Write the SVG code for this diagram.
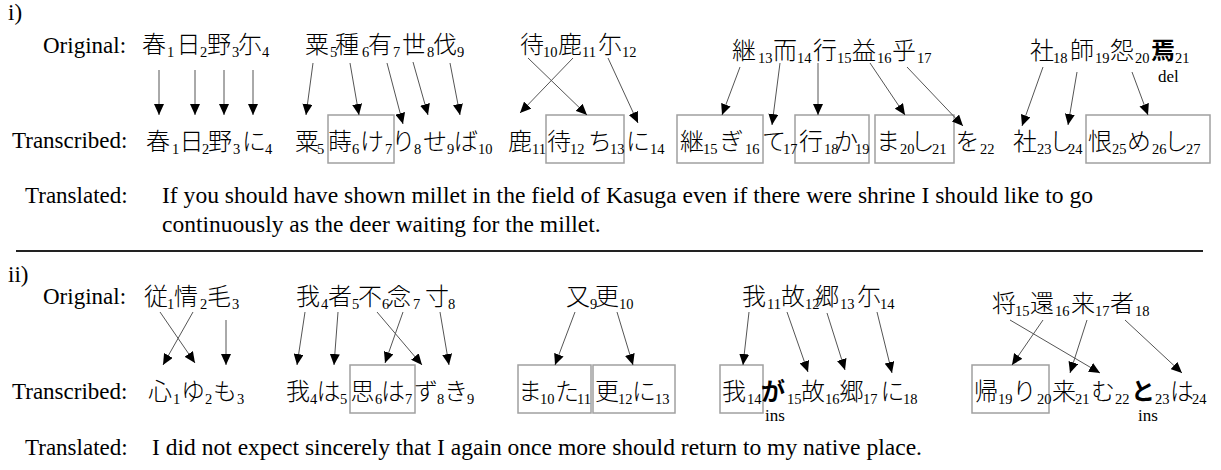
<svg xmlns="http://www.w3.org/2000/svg" width="1221" height="470" viewBox="0 0 1221 470">
<style>
.l{font-family:"Liberation Serif",serif;font-size:23px;fill:#000}
.t{font-family:"Liberation Serif",serif;font-size:23.5px;fill:#000}
.j{font-family:"Noto Sans CJK JP",sans-serif;font-size:24px;font-weight:300;text-anchor:middle;fill:#000}
.b{font-weight:700}
.s{font-family:"Liberation Serif",serif;font-size:14.5px;fill:#000}
.n{font-family:"Liberation Serif",serif;font-size:17px;fill:#000}
.box{fill:none;stroke:#a0a0a0;stroke-width:1.5}
.c line{stroke:#555;stroke-width:1;marker-end:url(#ah)}
</style>
<defs>
<marker id="ah" viewBox="0 0 11 10" refX="11" refY="5" markerWidth="11" markerHeight="10" markerUnits="userSpaceOnUse" orient="auto">
<path d="M0,0 L11,5 L0,10 z" fill="#000"/>
</marker>
</defs>
<rect width="1221" height="470" fill="#fff"/>

<g id="labels">
<text class="l" x="8" y="20" font-size="28">i)</text>
<text class="l" x="43" y="53">Original:</text>
<text class="l" x="12" y="148">Transcribed:</text>
<text class="l" x="25" y="203">Translated:</text>
<text class="t" x="162" y="203" textLength="931" lengthAdjust="spacingAndGlyphs">If you should have shown millet in the field of Kasuga even if there were shrine I should like to go</text>
<text class="t" x="162" y="232">continuously as the deer waiting for the millet.</text>
<line x1="16" y1="251" x2="1203" y2="251" stroke="#222" stroke-width="2"/>
<text class="l" x="8" y="282" font-size="28">ii)</text>
<text class="l" x="43" y="304">Original:</text>
<text class="l" x="12" y="399">Transcribed:</text>
<text class="l" x="25" y="455">Translated:</text>
<text class="t" x="152" y="455" textLength="770" lengthAdjust="spacingAndGlyphs">I did not expect sincerely that I again once more should return to my native place.</text>
</g>

<!-- Row i original -->
<g id="i-orig-1">
<text class="j" y="53"><tspan x="154">春</tspan><tspan x="188.5">日</tspan><tspan x="219">野</tspan><tspan x="250">尓</tspan></text>
<text class="s" y="57"><tspan x="167">1</tspan><tspan x="200">2</tspan><tspan x="232">3</tspan><tspan x="262">4</tspan></text>
</g>
<g id="i-orig-2">
<text class="j" y="53"><tspan x="317">粟</tspan><tspan x="347">種</tspan><tspan x="380">有</tspan><tspan x="414">世</tspan><tspan x="445">伐</tspan></text>
<text class="s" y="57"><tspan x="330">5</tspan><tspan x="362">6</tspan><tspan x="393">7</tspan><tspan x="427">8</tspan><tspan x="457">9</tspan></text>
</g>
<g id="i-orig-3">
<text class="j" y="53"><tspan x="532">待</tspan><tspan x="570">鹿</tspan><tspan x="610">尓</tspan></text>
<text class="s" y="57"><tspan x="543">10</tspan><tspan x="582">11</tspan><tspan x="622">12</tspan></text>
</g>
<g id="i-orig-4">
<text class="j" y="59"><tspan x="744">継</tspan><tspan x="785">而</tspan><tspan x="825">行</tspan><tspan x="864">益</tspan><tspan x="904">乎</tspan></text>
<text class="s" y="63"><tspan x="758">13</tspan><tspan x="797">14</tspan><tspan x="837">15</tspan><tspan x="877">16</tspan><tspan x="917">17</tspan></text>
</g>
<g id="i-orig-5">
<text class="j" y="59"><tspan x="1042">社</tspan><tspan x="1082">師</tspan><tspan x="1122">怨</tspan><tspan x="1163" class="b">焉</tspan></text>
<text class="s" y="63"><tspan x="1053">18</tspan><tspan x="1095">19</tspan><tspan x="1135">20</tspan><tspan x="1175">21</tspan></text>
<text class="n" x="1158" y="82">del</text>
</g>

<!-- Row i transcribed -->
<g id="i-tr-1">
<text class="j" y="150"><tspan x="158">春</tspan><tspan x="191.5">日</tspan><tspan x="220">野</tspan><tspan x="254">に</tspan></text>
<text class="s" y="154"><tspan x="172">1</tspan><tspan x="202">2</tspan><tspan x="233">3</tspan><tspan x="265">4</tspan></text>
</g>
<g id="i-tr-2">
<rect class="box" x="328" y="115" width="66" height="48"/>
<text class="j" y="150"><tspan x="307">粟</tspan><tspan x="340">蒔</tspan><tspan x="372">け</tspan><tspan x="403.5">り</tspan><tspan x="435">せ</tspan><tspan x="466">ば</tspan></text>
<text class="s" y="154"><tspan x="317">5</tspan><tspan x="352">6</tspan><tspan x="385">7</tspan><tspan x="414">8</tspan><tspan x="447">9</tspan><tspan x="478">10</tspan></text>
</g>
<g id="i-tr-3">
<rect class="box" x="546" y="115" width="78" height="48"/>
<text class="j" y="150"><tspan x="520">鹿</tspan><tspan x="559">待</tspan><tspan x="600">ち</tspan><tspan x="638">に</tspan></text>
<text class="s" y="154"><tspan x="532">11</tspan><tspan x="570">12</tspan><tspan x="610">13</tspan><tspan x="650">14</tspan></text>
</g>
<g id="i-tr-4">
<rect class="box" x="677" y="115" width="86" height="48"/>
<rect class="box" x="795" y="115" width="74" height="48"/>
<rect class="box" x="875" y="115" width="79" height="48"/>
<text class="j" y="150"><tspan x="692">継</tspan><tspan x="731.5">ぎ</tspan><tspan x="774">て</tspan><tspan x="811">行</tspan><tspan x="846">か</tspan><tspan x="888">ま</tspan><tspan x="922.5">し</tspan><tspan x="967.5">を</tspan></text>
<text class="s" y="154"><tspan x="703">15</tspan><tspan x="745">16</tspan><tspan x="783">17</tspan><tspan x="824">18</tspan><tspan x="855">19</tspan><tspan x="900">20</tspan><tspan x="932">21</tspan><tspan x="980">22</tspan></text>
</g>
<g id="i-tr-5">
<rect class="box" x="1086" y="115" width="124" height="48"/>
<text class="j" y="150"><tspan x="1025">社</tspan><tspan x="1061">し</tspan><tspan x="1100">恨</tspan><tspan x="1139">め</tspan><tspan x="1176">し</tspan></text>
<text class="s" y="154"><tspan x="1037">23</tspan><tspan x="1068">24</tspan><tspan x="1112">25</tspan><tspan x="1152">26</tspan><tspan x="1186">27</tspan></text>
</g>

<!-- Row ii original -->
<g id="ii-orig-1">
<text class="j" y="305"><tspan x="156">従</tspan><tspan x="186">情</tspan><tspan x="219">毛</tspan></text>
<text class="s" y="309"><tspan x="167">1</tspan><tspan x="200">2</tspan><tspan x="232">3</tspan></text>
</g>
<g id="ii-orig-2">
<text class="j" y="305"><tspan x="308">我</tspan><tspan x="340">者</tspan><tspan x="370">不</tspan><tspan x="399">念</tspan><tspan x="437">寸</tspan></text>
<text class="s" y="309"><tspan x="321">4</tspan><tspan x="352">5</tspan><tspan x="382">6</tspan><tspan x="413">7</tspan><tspan x="448">8</tspan></text>
</g>
<g id="ii-orig-3">
<text class="j" y="305"><tspan x="578">又</tspan><tspan x="607">更</tspan></text>
<text class="s" y="309"><tspan x="590">9</tspan><tspan x="619">10</tspan></text>
</g>
<g id="ii-orig-4">
<text class="j" y="305"><tspan x="754">我</tspan><tspan x="793">故</tspan><tspan x="827">郷</tspan><tspan x="869">尓</tspan></text>
<text class="s" y="309"><tspan x="767">11</tspan><tspan x="805">12</tspan><tspan x="840">13</tspan><tspan x="880">14</tspan></text>
</g>
<g id="ii-orig-5">
<text class="j" y="312"><tspan x="1004">将</tspan><tspan x="1042">還</tspan><tspan x="1083">来</tspan><tspan x="1122">者</tspan></text>
<text class="s" y="316"><tspan x="1015">15</tspan><tspan x="1055">16</tspan><tspan x="1095">17</tspan><tspan x="1135">18</tspan></text>
</g>

<!-- Row ii transcribed -->
<g id="ii-tr-1">
<text class="j" y="400"><tspan x="160">心</tspan><tspan x="193">ゆ</tspan><tspan x="225">も</tspan></text>
<text class="s" y="404"><tspan x="173">1</tspan><tspan x="205">2</tspan><tspan x="237">3</tspan></text>
</g>
<g id="ii-tr-2">
<rect class="box" x="350" y="365" width="65" height="48"/>
<text class="j" y="400"><tspan x="298">我</tspan><tspan x="328.5">は</tspan><tspan x="362.5">思</tspan><tspan x="393">は</tspan><tspan x="426">ず</tspan><tspan x="456">き</tspan></text>
<text class="s" y="404"><tspan x="310">4</tspan><tspan x="340">5</tspan><tspan x="375">6</tspan><tspan x="405">7</tspan><tspan x="437">8</tspan><tspan x="467">9</tspan></text>
</g>
<g id="ii-tr-3">
<rect class="box" x="518" y="365" width="73" height="48"/>
<rect class="box" x="593" y="365" width="82" height="48"/>
<text class="j" y="400"><tspan x="530">ま</tspan><tspan x="567">た</tspan><tspan x="607">更</tspan><tspan x="644">に</tspan></text>
<text class="s" y="404"><tspan x="540">10</tspan><tspan x="577">11</tspan><tspan x="618">12</tspan><tspan x="655">13</tspan></text>
</g>
<g id="ii-tr-4">
<rect class="box" x="720" y="365" width="43" height="48"/>
<text class="j" y="400"><tspan x="734">我</tspan><tspan x="773" class="b">が</tspan><tspan x="813">故</tspan><tspan x="851.5">郷</tspan><tspan x="892.5">に</tspan></text>
<text class="s" y="404"><tspan x="747">14</tspan><tspan x="787">15</tspan><tspan x="825">16</tspan><tspan x="863">17</tspan><tspan x="903">18</tspan></text>
<text class="n" x="765" y="421">ins</text>
</g>
<g id="ii-tr-5">
<rect class="box" x="972" y="365" width="77" height="48"/>
<text class="j" y="400"><tspan x="986">帰</tspan><tspan x="1024.5">り</tspan><tspan x="1064">来</tspan><tspan x="1103">む</tspan><tspan x="1143" class="b">と</tspan><tspan x="1182">は</tspan></text>
<text class="s" y="404"><tspan x="998">19</tspan><tspan x="1037">20</tspan><tspan x="1075">21</tspan><tspan x="1115">22</tspan><tspan x="1155">23</tspan><tspan x="1192">24</tspan></text>
<text class="n" x="1138" y="421">ins</text>
</g>

<g id="connectors" class="c">
<line x1="159" y1="70" x2="159" y2="115"/>
<line x1="195" y1="70" x2="195" y2="115"/>
<line x1="224" y1="70" x2="224" y2="115"/>
<line x1="253" y1="70" x2="253" y2="115"/>
<line x1="313" y1="63" x2="306" y2="115"/>
<line x1="350" y1="63" x2="359" y2="115"/>
<line x1="387" y1="63" x2="403" y2="124"/>
<line x1="413" y1="62" x2="428" y2="115"/>
<line x1="450" y1="63" x2="460" y2="115"/>
<line x1="528" y1="58" x2="587" y2="115"/>
<line x1="573" y1="58" x2="520" y2="113"/>
<line x1="608" y1="58" x2="638" y2="123"/>
<line x1="740" y1="67" x2="722" y2="115"/>
<line x1="780" y1="63" x2="772" y2="125"/>
<line x1="818" y1="63" x2="818" y2="115"/>
<line x1="870" y1="63" x2="905" y2="115"/>
<line x1="907" y1="67" x2="963" y2="126"/>
<line x1="1043" y1="67" x2="1022" y2="126"/>
<line x1="1077" y1="72" x2="1068" y2="125"/>
<line x1="1132" y1="72" x2="1148" y2="115"/>
<line x1="160" y1="312" x2="195" y2="363"/>
<line x1="193" y1="312" x2="163" y2="365"/>
<line x1="226" y1="320" x2="226" y2="365"/>
<line x1="305" y1="312" x2="297" y2="365"/>
<line x1="338" y1="312" x2="334" y2="365"/>
<line x1="377" y1="312" x2="422" y2="365"/>
<line x1="403" y1="312" x2="385" y2="363"/>
<line x1="440" y1="312" x2="449" y2="365"/>
<line x1="575" y1="312" x2="555" y2="365"/>
<line x1="617" y1="312" x2="633" y2="365"/>
<line x1="749" y1="312" x2="743" y2="365"/>
<line x1="787" y1="312" x2="808" y2="372"/>
<line x1="827" y1="313" x2="845" y2="370"/>
<line x1="877" y1="312" x2="892" y2="373"/>
<line x1="1010" y1="320" x2="1100" y2="373"/>
<line x1="1043" y1="320" x2="1012" y2="365"/>
<line x1="1087" y1="320" x2="1070" y2="373"/>
<line x1="1125" y1="320" x2="1182" y2="373"/>
</g>
</svg>
